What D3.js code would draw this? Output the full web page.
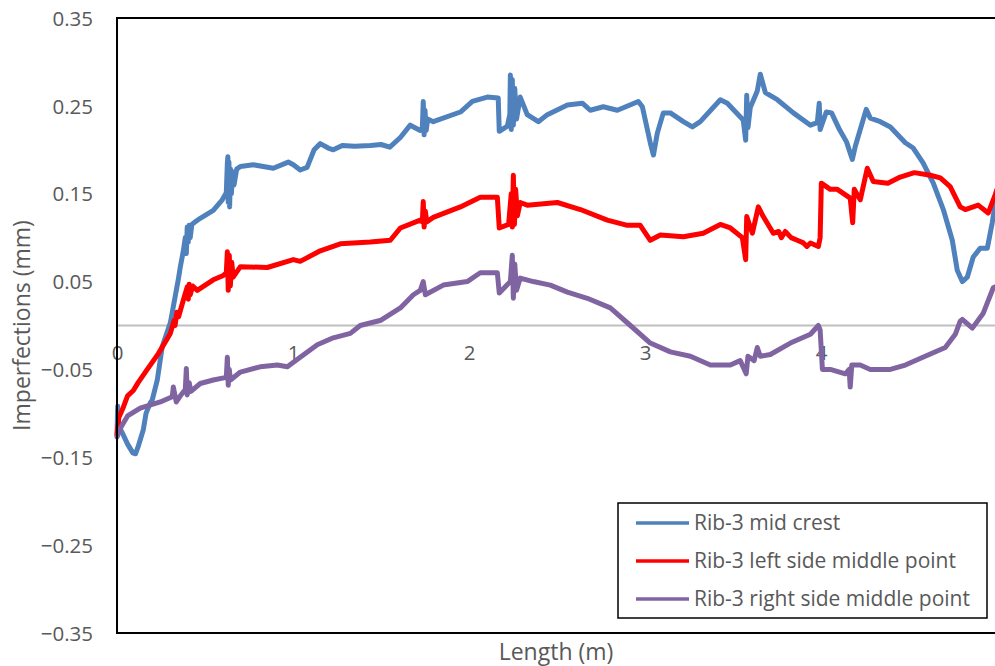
<!DOCTYPE html>
<html>
<head>
<meta charset="utf-8">
<script src="https://cdn.jsdelivr.net/npm/d3@7"></script>
<style>
  html, body { margin: 0; padding: 0; background: #fff; overflow: hidden; }
  svg { display: block; }
  text { font-family: "Open Sans", "Liberation Sans", sans-serif; fill: #595959; }
</style>
</head>
<body>
<svg id="chart" width="995" height="666"></svg>
<script>
// Measured imperfection profiles along rib 3: [length (m), imperfection (mm)]
const midCrest = [
  [0,-0.125],[0.004,-0.092],[0.01,-0.115],[0.03,-0.122],[0.06,-0.135],[0.09,-0.145],[0.105,-0.146],
  [0.12,-0.138],[0.149,-0.119],[0.165,-0.1],[0.189,-0.088],[0.2,-0.085],[0.229,-0.062],[0.257,-0.024],
  [0.303,0.003],[0.348,0.052],[0.36,0.067],[0.377,0.085],[0.388,0.1],[0.394,0.082],[0.399,0.112],
  [0.405,0.095],[0.41,0.114],[0.416,0.1],[0.425,0.115],[0.445,0.118],[0.473,0.122],[0.547,0.131],
  [0.598,0.143],[0.621,0.151],[0.627,0.185],[0.63,0.192],[0.632,0.14],[0.636,0.186],[0.64,0.135],
  [0.645,0.178],[0.65,0.15],[0.657,0.175],[0.665,0.16],[0.68,0.178],[0.701,0.181],[0.774,0.183],
  [0.888,0.179],[0.973,0.186],[1.002,0.183],[1.041,0.177],[1.08,0.18],[1.12,0.2],[1.155,0.207],
  [1.2,0.202],[1.229,0.2],[1.28,0.205],[1.35,0.204],[1.44,0.205],[1.5,0.206],[1.55,0.203],
  [1.61,0.214],[1.666,0.228],[1.723,0.222],[1.735,0.225],[1.74,0.255],[1.745,0.217],[1.75,0.245],
  [1.757,0.222],[1.765,0.235],[1.797,0.232],[1.951,0.243],[2.019,0.255],[2.104,0.26],[2.166,0.259],
  [2.172,0.221],[2.218,0.227],[2.232,0.24],[2.235,0.285],[2.24,0.223],[2.246,0.28],[2.252,0.228],
  [2.26,0.27],[2.27,0.235],[2.291,0.26],[2.331,0.24],[2.394,0.232],[2.445,0.24],[2.559,0.251],
  [2.644,0.253],[2.689,0.245],[2.763,0.249],[2.843,0.245],[2.962,0.255],[2.985,0.249],[3.03,0.208],
  [3.048,0.194],[3.07,0.219],[3.104,0.242],[3.144,0.242],[3.218,0.232],[3.269,0.226],[3.314,0.232],
  [3.428,0.257],[3.468,0.253],[3.558,0.234],[3.572,0.211],[3.578,0.262],[3.585,0.225],[3.598,0.248],
  [3.638,0.267],[3.655,0.286],[3.684,0.265],[3.752,0.257],[3.843,0.242],[3.94,0.228],[3.979,0.231],
  [3.99,0.253],[3.995,0.223],[4.03,0.243],[4.06,0.242],[4.105,0.223],[4.145,0.209],[4.178,0.189],
  [4.195,0.204],[4.223,0.223],[4.257,0.246],[4.28,0.236],[4.337,0.232],[4.394,0.226],[4.479,0.208],
  [4.524,0.202],[4.58,0.185],[4.638,0.162],[4.695,0.132],[4.746,0.097],[4.774,0.063],[4.803,0.05],
  [4.831,0.055],[4.865,0.078],[4.905,0.088],[4.945,0.088],[4.973,0.117],[4.99,0.139],[5.0,0.15]
];

const leftSide = [
  [0,-0.125],[0.01,-0.105],[0.036,-0.093],[0.06,-0.08],[0.093,-0.074],[0.12,-0.065],[0.172,-0.05],
  [0.235,-0.032],[0.303,-0.009],[0.325,0.006],[0.33,0.0],[0.34,0.015],[0.35,0.01],[0.377,0.029],
  [0.399,0.044],[0.405,0.03],[0.41,0.047],[0.416,0.035],[0.43,0.045],[0.456,0.04],[0.547,0.052],
  [0.604,0.057],[0.621,0.06],[0.627,0.084],[0.632,0.04],[0.638,0.08],[0.644,0.045],[0.652,0.072],
  [0.66,0.055],[0.701,0.067],[0.854,0.066],[1.002,0.075],[1.041,0.073],[1.155,0.085],[1.269,0.093],
  [1.439,0.095],[1.553,0.097],[1.61,0.111],[1.723,0.12],[1.735,0.118],[1.74,0.141],[1.745,0.112],
  [1.752,0.13],[1.76,0.118],[1.797,0.123],[1.951,0.135],[2.064,0.146],[2.161,0.146],[2.172,0.111],
  [2.225,0.115],[2.24,0.15],[2.246,0.112],[2.252,0.171],[2.258,0.115],[2.265,0.155],[2.275,0.125],
  [2.291,0.14],[2.331,0.137],[2.502,0.14],[2.633,0.132],[2.786,0.12],[2.9,0.114],[2.973,0.114],
  [3.03,0.097],[3.087,0.103],[3.218,0.101],[3.331,0.105],[3.428,0.115],[3.485,0.111],[3.553,0.1],
  [3.572,0.075],[3.578,0.124],[3.61,0.105],[3.644,0.135],[3.672,0.124],[3.729,0.105],[3.76,0.107],
  [3.775,0.1],[3.797,0.107],[3.83,0.1],[3.865,0.097],[3.9,0.094],[3.92,0.09],[3.94,0.094],
  [3.985,0.09],[3.995,0.1],[4.002,0.162],[4.053,0.155],[4.093,0.155],[4.166,0.145],[4.18,0.117],
  [4.189,0.155],[4.223,0.143],[4.263,0.179],[4.297,0.164],[4.38,0.162],[4.45,0.169],[4.53,0.174],
  [4.621,0.171],[4.678,0.168],[4.734,0.158],[4.791,0.135],[4.82,0.132],[4.893,0.137],[4.95,0.128],
  [4.99,0.149],[5.0,0.155]
];

const rightSide = [
  [0,-0.127],[0.019,-0.117],[0.06,-0.103],[0.132,-0.094],[0.246,-0.087],[0.314,-0.081],[0.32,-0.07],
  [0.337,-0.087],[0.36,-0.08],[0.388,-0.073],[0.394,-0.049],[0.399,-0.079],[0.41,-0.065],[0.42,-0.075],
  [0.473,-0.066],[0.547,-0.062],[0.621,-0.059],[0.627,-0.036],[0.632,-0.068],[0.638,-0.05],
  [0.645,-0.062],[0.701,-0.053],[0.814,-0.047],[0.911,-0.045],[0.968,-0.047],[1.041,-0.036],
  [1.138,-0.022],[1.229,-0.014],[1.326,-0.009],[1.382,0.0],[1.5,0.006],[1.61,0.02],[1.684,0.035],
  [1.723,0.04],[1.74,0.05],[1.752,0.035],[1.854,0.046],[1.99,0.05],[2.064,0.06],[2.161,0.06],
  [2.172,0.037],[2.235,0.05],[2.246,0.08],[2.252,0.031],[2.26,0.07],[2.27,0.04],[2.291,0.054],
  [2.365,0.05],[2.462,0.046],[2.559,0.038],[2.672,0.031],[2.803,0.02],[2.917,0.0],[3.03,-0.02],
  [3.144,-0.03],[3.258,-0.035],[3.371,-0.045],[3.485,-0.045],[3.541,-0.04],[3.575,-0.055],
  [3.585,-0.035],[3.62,-0.04],[3.638,-0.025],[3.655,-0.035],[3.712,-0.033],[3.826,-0.02],
  [3.94,-0.01],[3.985,0.0],[3.995,-0.005],[4.008,-0.05],[4.053,-0.05],[4.138,-0.055],[4.16,-0.05],
  [4.166,-0.07],[4.175,-0.045],[4.223,-0.045],[4.28,-0.05],[4.394,-0.05],[4.479,-0.045],
  [4.592,-0.035],[4.706,-0.025],[4.763,-0.01],[4.791,0.005],[4.803,0.007],[4.86,-0.003],
  [4.922,0.014],[4.979,0.043],[5.0,0.045]
];

const seriesNames = ["Rib-3 mid crest", "Rib-3 left side middle point", "Rib-3 right side middle point"];
const seriesColors = ["#4f81bd", "#ff0000", "#8064a2"];
const yTicks = [0.35, 0.25, 0.15, 0.05, -0.05, -0.15, -0.25, -0.35];
const xTicks = [0, 1, 2, 3, 4];
const xTitle = "Length (m)";
const yTitle = "Imperfections (mm)";

const svg = d3.select("#chart");
const plot = { left: 117, right: 997, top: 18, bottom: 633 };

const x = d3.scaleLinear().domain([0, 5]).range([plot.left, plot.right]);
const y = d3.scaleLinear().domain([-0.35, 0.35]).range([plot.bottom, plot.top]);

// Zero line (horizontal value axis)
svg.append("line")
  .attr("x1", x(0)).attr("x2", x(5))
  .attr("y1", y(0)).attr("y2", y(0))
  .attr("stroke", "#bfbfbf").attr("stroke-width", 2);

// Y axis tick labels
const yAxis = d3.axisLeft(y).tickValues(yTicks).tickSize(0).tickPadding(24)
  .tickFormat(d3.format(".2f"));
const gy = svg.append("g").attr("transform", `translate(${plot.left},0)`).call(yAxis);
gy.select(".domain").remove();
gy.selectAll("text").attr("font-size", 20.5).attr("fill", "#595959")
  .attr("font-family", "'Open Sans', sans-serif").attr("dy", "0.35em");

// X axis tick labels, sitting below the zero line
const xAxis = d3.axisBottom(x).tickValues(xTicks).tickSize(0).tickPadding(20)
  .tickFormat(d3.format("d"));
const gx = svg.append("g").attr("transform", `translate(0,${y(0)})`).call(xAxis);
gx.select(".domain").remove();
gx.selectAll("text").attr("font-size", 20.5).attr("fill", "#595959")
  .attr("font-family", "'Open Sans', sans-serif");

// Data lines
const line = d3.line().x(d => x(d[0])).y(d => y(d[1]));
[midCrest, leftSide, rightSide].forEach((data, i) => {
  svg.append("path")
    .datum(data)
    .attr("d", line)
    .attr("fill", "none")
    .attr("stroke", seriesColors[i])
    .attr("stroke-width", 5)
    .attr("stroke-linejoin", "round")
    .attr("stroke-linecap", "round");
});

// Plot frame
svg.append("rect")
  .attr("x", plot.left).attr("y", plot.top)
  .attr("width", plot.right - plot.left).attr("height", plot.bottom - plot.top)
  .attr("fill", "none").attr("stroke", "#000").attr("stroke-width", 2);

// Axis titles
svg.append("text")
  .attr("x", 556).attr("y", 660)
  .attr("text-anchor", "middle")
  .attr("font-size", 23)
  .text(xTitle);

svg.append("text")
  .attr("transform", `translate(30,${y(0)}) rotate(-90)`)
  .attr("text-anchor", "middle")
  .attr("font-size", 23)
  .text(yTitle);

// Legend
const legend = svg.append("g");
legend.append("rect")
  .attr("x", 618).attr("y", 503).attr("width", 369).attr("height", 115)
  .attr("fill", "#fff").attr("stroke", "#000").attr("stroke-width", 1.5);
seriesNames.forEach((name, i) => {
  const ly = 523 + i * 38;
  legend.append("line")
    .attr("x1", 636).attr("x2", 689).attr("y1", ly).attr("y2", ly)
    .attr("stroke", seriesColors[i]).attr("stroke-width", 3.5);
  legend.append("text")
    .attr("x", 694).attr("y", ly).attr("dy", "0.35em")
    .attr("font-size", 21)
    .text(name);
});
</script>
</body>
</html>
